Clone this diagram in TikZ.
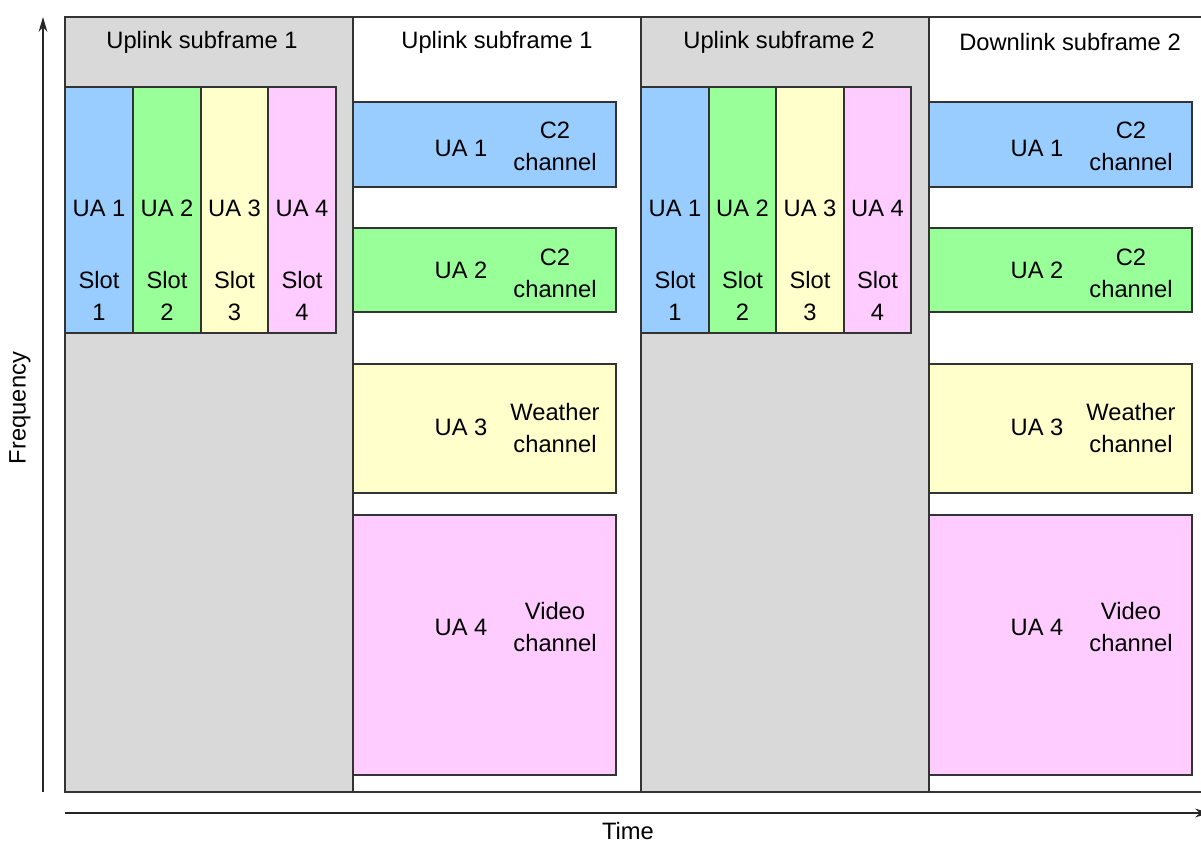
\documentclass[tikz,border=0pt]{standalone}
\usepackage{fontspec}
\setmainfont{Liberation Sans}
\usepackage{tikz}
\usetikzlibrary{positioning, arrows.meta}
\definecolor{uablue}{HTML}{99CCFF}
\definecolor{uagreen}{HTML}{99FF99}
\definecolor{uayellow}{HTML}{FFFFCC}
\definecolor{uapink}{HTML}{FFCCFF}
\definecolor{upgray}{HTML}{D9D9D9}
\tikzset{
  >={Stealth[length=8.5pt,width=5pt]},
  frameline/.style={draw=black!80, line width=0.7pt},
  axisline/.style={draw=black!85, line width=0.7pt, ->},
  lbl/.style={font=\fontsize{13.5}{18.2}\selectfont, align=center, inner sep=0pt},
}

\begin{document}
\begin{tikzpicture}[x=0.02cm, y=-0.02cm]
  \useasboundingbox (0,0) rectangle (1201,842);

  % subframes
  \path[frameline, fill=upgray] (65,17) rectangle (353,792);
  \path[frameline, fill=upgray] (641,17) rectangle (929,792);
  \draw[frameline] (353,17) -- (1205,17);
  \draw[frameline] (929,792) -- (1205,792);
  \draw[frameline] (353,792) -- (641,792);

  \node[lbl] (t1) at (202,42) {Uplink subframe 1};
  \node[lbl] (t2) at (497,42) {Uplink subframe 1};
  \node[lbl] (t3) at (779,42) {Uplink subframe 2};
  \node[lbl] (t4) at (1070,42) {Downlink subframe 2};

  % slots, uplink subframe 1
  \path[frameline, fill=uablue]   (65,87)  rectangle (133,333);
  \path[frameline, fill=uagreen]  (133,87) rectangle (201,333);
  \path[frameline, fill=uayellow] (201,87) rectangle (268,333);
  \path[frameline, fill=uapink]   (268,87) rectangle (336,333);
  \node[lbl] (a1) at (99,208) {UA 1};
  \node[lbl] (a2) at (167,208) {UA 2};
  \node[lbl] (a3) at (234.5,208) {UA 3};
  \node[lbl] (a4) at (302,208) {UA 4};
  \node[lbl] (s1) at (99,296) {Slot\\1};
  \node[lbl] (s2) at (167,296) {Slot\\2};
  \node[lbl] (s3) at (234.5,296) {Slot\\3};
  \node[lbl] (s4) at (302,296) {Slot\\4};

  % slots, uplink subframe 2
  \path[frameline, fill=uablue]   (641,87) rectangle (709,333);
  \path[frameline, fill=uagreen]  (709,87) rectangle (776,333);
  \path[frameline, fill=uayellow] (776,87) rectangle (844,333);
  \path[frameline, fill=uapink]   (844,87) rectangle (911,333);
  \node[lbl] (b1) at (675,208) {UA 1};
  \node[lbl] (b2) at (742.5,208) {UA 2};
  \node[lbl] (b3) at (810,208) {UA 3};
  \node[lbl] (b4) at (877.5,208) {UA 4};
  \node[lbl] (r1) at (675,296) {Slot\\1};
  \node[lbl] (r2) at (742.5,296) {Slot\\2};
  \node[lbl] (r3) at (810,296) {Slot\\3};
  \node[lbl] (r4) at (877.5,296) {Slot\\4};

  % channels, second column
  \path[frameline, fill=uablue]   (353,102) rectangle (616,187);
  \path[frameline, fill=uagreen]  (353,228) rectangle (616,312);
  \path[frameline, fill=uayellow] (353,364) rectangle (616,493);
  \path[frameline, fill=uapink]   (353,515) rectangle (616,775);
  \node[lbl] (c1) at (461,148) {UA 1};
  \node[lbl] (c2) at (461,270) {UA 2};
  \node[lbl] (c3) at (461,427) {UA 3};
  \node[lbl] (c4) at (461,627) {UA 4};
  \node[lbl] (d1) at (555,146) {C2\\channel};
  \node[lbl] (d2) at (555,273) {C2\\channel};
  \node[lbl] (d3) at (555,428) {Weather\\channel};
  \node[lbl] (d4) at (555,627) {Video\\channel};

  % channels, downlink subframe 2
  \path[frameline, fill=uablue]   (929,102) rectangle (1192,187);
  \path[frameline, fill=uagreen]  (929,228) rectangle (1192,312);
  \path[frameline, fill=uayellow] (929,364) rectangle (1192,493);
  \path[frameline, fill=uapink]   (929,515) rectangle (1192,775);
  \node[lbl] (e1) at (1037,148) {UA 1};
  \node[lbl] (e2) at (1037,270) {UA 2};
  \node[lbl] (e3) at (1037,427) {UA 3};
  \node[lbl] (e4) at (1037,627) {UA 4};
  \node[lbl] (f1) at (1131,146) {C2\\channel};
  \node[lbl] (f2) at (1131,273) {C2\\channel};
  \node[lbl] (f3) at (1131,428) {Weather\\channel};
  \node[lbl] (f4) at (1131,627) {Video\\channel};

  % axes
  \coordinate (fbot) at (43,792);
  \coordinate (ftop) at (43,17);
  \coordinate (tleft) at (65,813);
  \coordinate (tright) at (1210,813);
  \draw[axisline] (fbot) -- (ftop);
  \draw[axisline] (tleft) -- (tright);
  \node[lbl, rotate=90] (freq) at (20,408) {Frequency};
  \node[lbl] (time) at (628,831) {Time};
\end{tikzpicture}
\end{document}
